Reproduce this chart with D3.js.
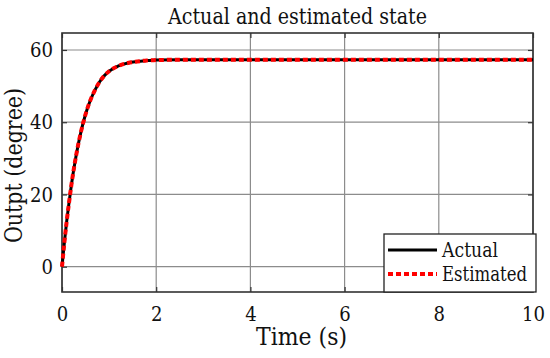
<!DOCTYPE html>
<html><head><meta charset="utf-8">
<script src="https://cdn.jsdelivr.net/npm/d3@7"></script>
<style>body{margin:0;background:#fff}svg{display:block}</style>
</head><body>
<script>
const timeS = [0,0.05,0.1,0.15,0.2,0.3,0.4,0.5,0.6,0.7,0.8,0.9,1.0,1.2,1.4,1.6,1.8,2.0,2.5,3,4,5,6,7,8,9,10];
const actual = [0,6.7,12.6,17.8,22.7,30.8,37.2,42.2,46.0,48.9,51.2,52.9,54.1,55.6,56.4,56.8,57.1,57.2,57.3,57.3,57.3,57.3,57.3,57.3,57.3,57.3,57.3];
const estimated = [0,6.7,12.6,17.8,22.7,30.8,37.2,42.2,46.0,48.9,51.2,52.9,54.1,55.6,56.4,56.8,57.1,57.2,57.3,57.3,57.3,57.3,57.3,57.3,57.3,57.3,57.3];
const xTicks = [0,2,4,6,8,10];
const yTicks = [0,20,40,60];
const title = "Actual and estimated state";
const xLabel = "Time (s)";
const yLabel = "Outpt (degree)";
const legendNames = ["Actual","Estimated"];

const FONT = "DejaVu Serif";
const W=550,H=358, L=62,R=533,T=33,B=292;
const svg=d3.select("body").append("svg").attr("width",W).attr("height",H).attr("font-family",FONT);
const x=d3.scaleLinear().domain([0,10]).range([L,R]);
const y=d3.scaleLinear().domain([-7,64.7]).range([B,T]);

svg.append("g").selectAll("line").data(xTicks).join("line")
  .attr("x1",d=>x(d)).attr("x2",d=>x(d)).attr("y1",T).attr("y2",B)
  .attr("stroke","#8c8c8c").attr("stroke-width",1.2);
svg.append("g").selectAll("line").data(yTicks).join("line")
  .attr("y1",d=>y(d)).attr("y2",d=>y(d)).attr("x1",L).attr("x2",R)
  .attr("stroke","#8c8c8c").attr("stroke-width",1.2);

const ax=svg.append("g").attr("transform",`translate(0,${B})`)
  .call(d3.axisBottom(x).tickValues(xTicks).tickSize(-5).tickPadding(18).tickFormat(d3.format("d")));
const ay=svg.append("g").attr("transform",`translate(${L},0)`)
  .call(d3.axisLeft(y).tickValues(yTicks).tickSize(-5).tickPadding(9).tickFormat(d3.format("d")));
svg.append("g").attr("transform",`translate(0,${T})`)
  .call(d3.axisTop(x).tickValues(xTicks).tickSize(-5).tickFormat(""));
svg.append("g").attr("transform",`translate(${R},0)`)
  .call(d3.axisRight(y).tickValues(yTicks).tickSize(-5).tickFormat(""));
svg.selectAll(".domain").remove();
svg.selectAll("g").attr("font-family",FONT);
svg.selectAll(".tick line").attr("stroke","#333").attr("stroke-width",1.2);
svg.selectAll(".tick text").attr("font-size",21).attr("fill","#111")
  .attr("textLength",function(){return this.textContent.length*11.5;})
  .attr("lengthAdjust","spacingAndGlyphs");
ax.selectAll(".tick text").attr("dy","0.5em");
svg.append("rect").attr("x",L).attr("y",T).attr("width",R-L).attr("height",B-T)
  .attr("fill","none").attr("stroke","#333").attr("stroke-width",1.6);

const pts=(vals)=>timeS.map((t,i)=>[t,vals[i]]);
const line=d3.line().x(d=>x(d[0])).y(d=>y(d[1])).curve(d3.curveMonotoneX);
svg.append("path").datum(pts(actual)).attr("d",line).attr("fill","none")
  .attr("stroke","#000").attr("stroke-width",3);
svg.append("path").datum(pts(estimated)).attr("d",line).attr("fill","none")
  .attr("stroke","#ff0000").attr("stroke-width",4).attr("stroke-dasharray","5,3");

svg.append("text").attr("x",297.5).attr("y",24).attr("text-anchor","middle").attr("font-size",22)
  .attr("textLength",259).attr("lengthAdjust","spacingAndGlyphs").attr("fill","#111").text(title);
svg.append("text").attr("x",301.5).attr("y",345).attr("text-anchor","middle").attr("font-size",24)
  .attr("textLength",91).attr("lengthAdjust","spacingAndGlyphs").attr("fill","#111").text(xLabel);
svg.append("text").attr("transform",`translate(22,165.5) rotate(-90)`).attr("text-anchor","middle").attr("font-size",24)
  .attr("textLength",155).attr("lengthAdjust","spacingAndGlyphs").attr("fill","#111").text(yLabel);

const lg=svg.append("g");
lg.append("rect").attr("x",384).attr("y",234).attr("width",152).attr("height",58)
  .attr("fill","#fff").attr("stroke","#222").attr("stroke-width",1.3);
const ly=[250,274];
lg.append("line").attr("x1",388).attr("x2",437).attr("y1",ly[0]).attr("y2",ly[0]).attr("stroke","#000").attr("stroke-width",3);
lg.append("line").attr("x1",388).attr("x2",437).attr("y1",ly[1]).attr("y2",ly[1]).attr("stroke","#ff0000").attr("stroke-width",4).attr("stroke-dasharray","5,3");
const legendLens=[56,85];
lg.selectAll("text.lt").data(legendNames).join("text").attr("class","lt")
  .attr("x",442).attr("y",(d,i)=>ly[i]+7).attr("font-size",20).attr("fill","#111")
  .attr("textLength",(d,i)=>legendLens[i]).attr("lengthAdjust","spacingAndGlyphs").text(d=>d);
</script>
</body></html>
